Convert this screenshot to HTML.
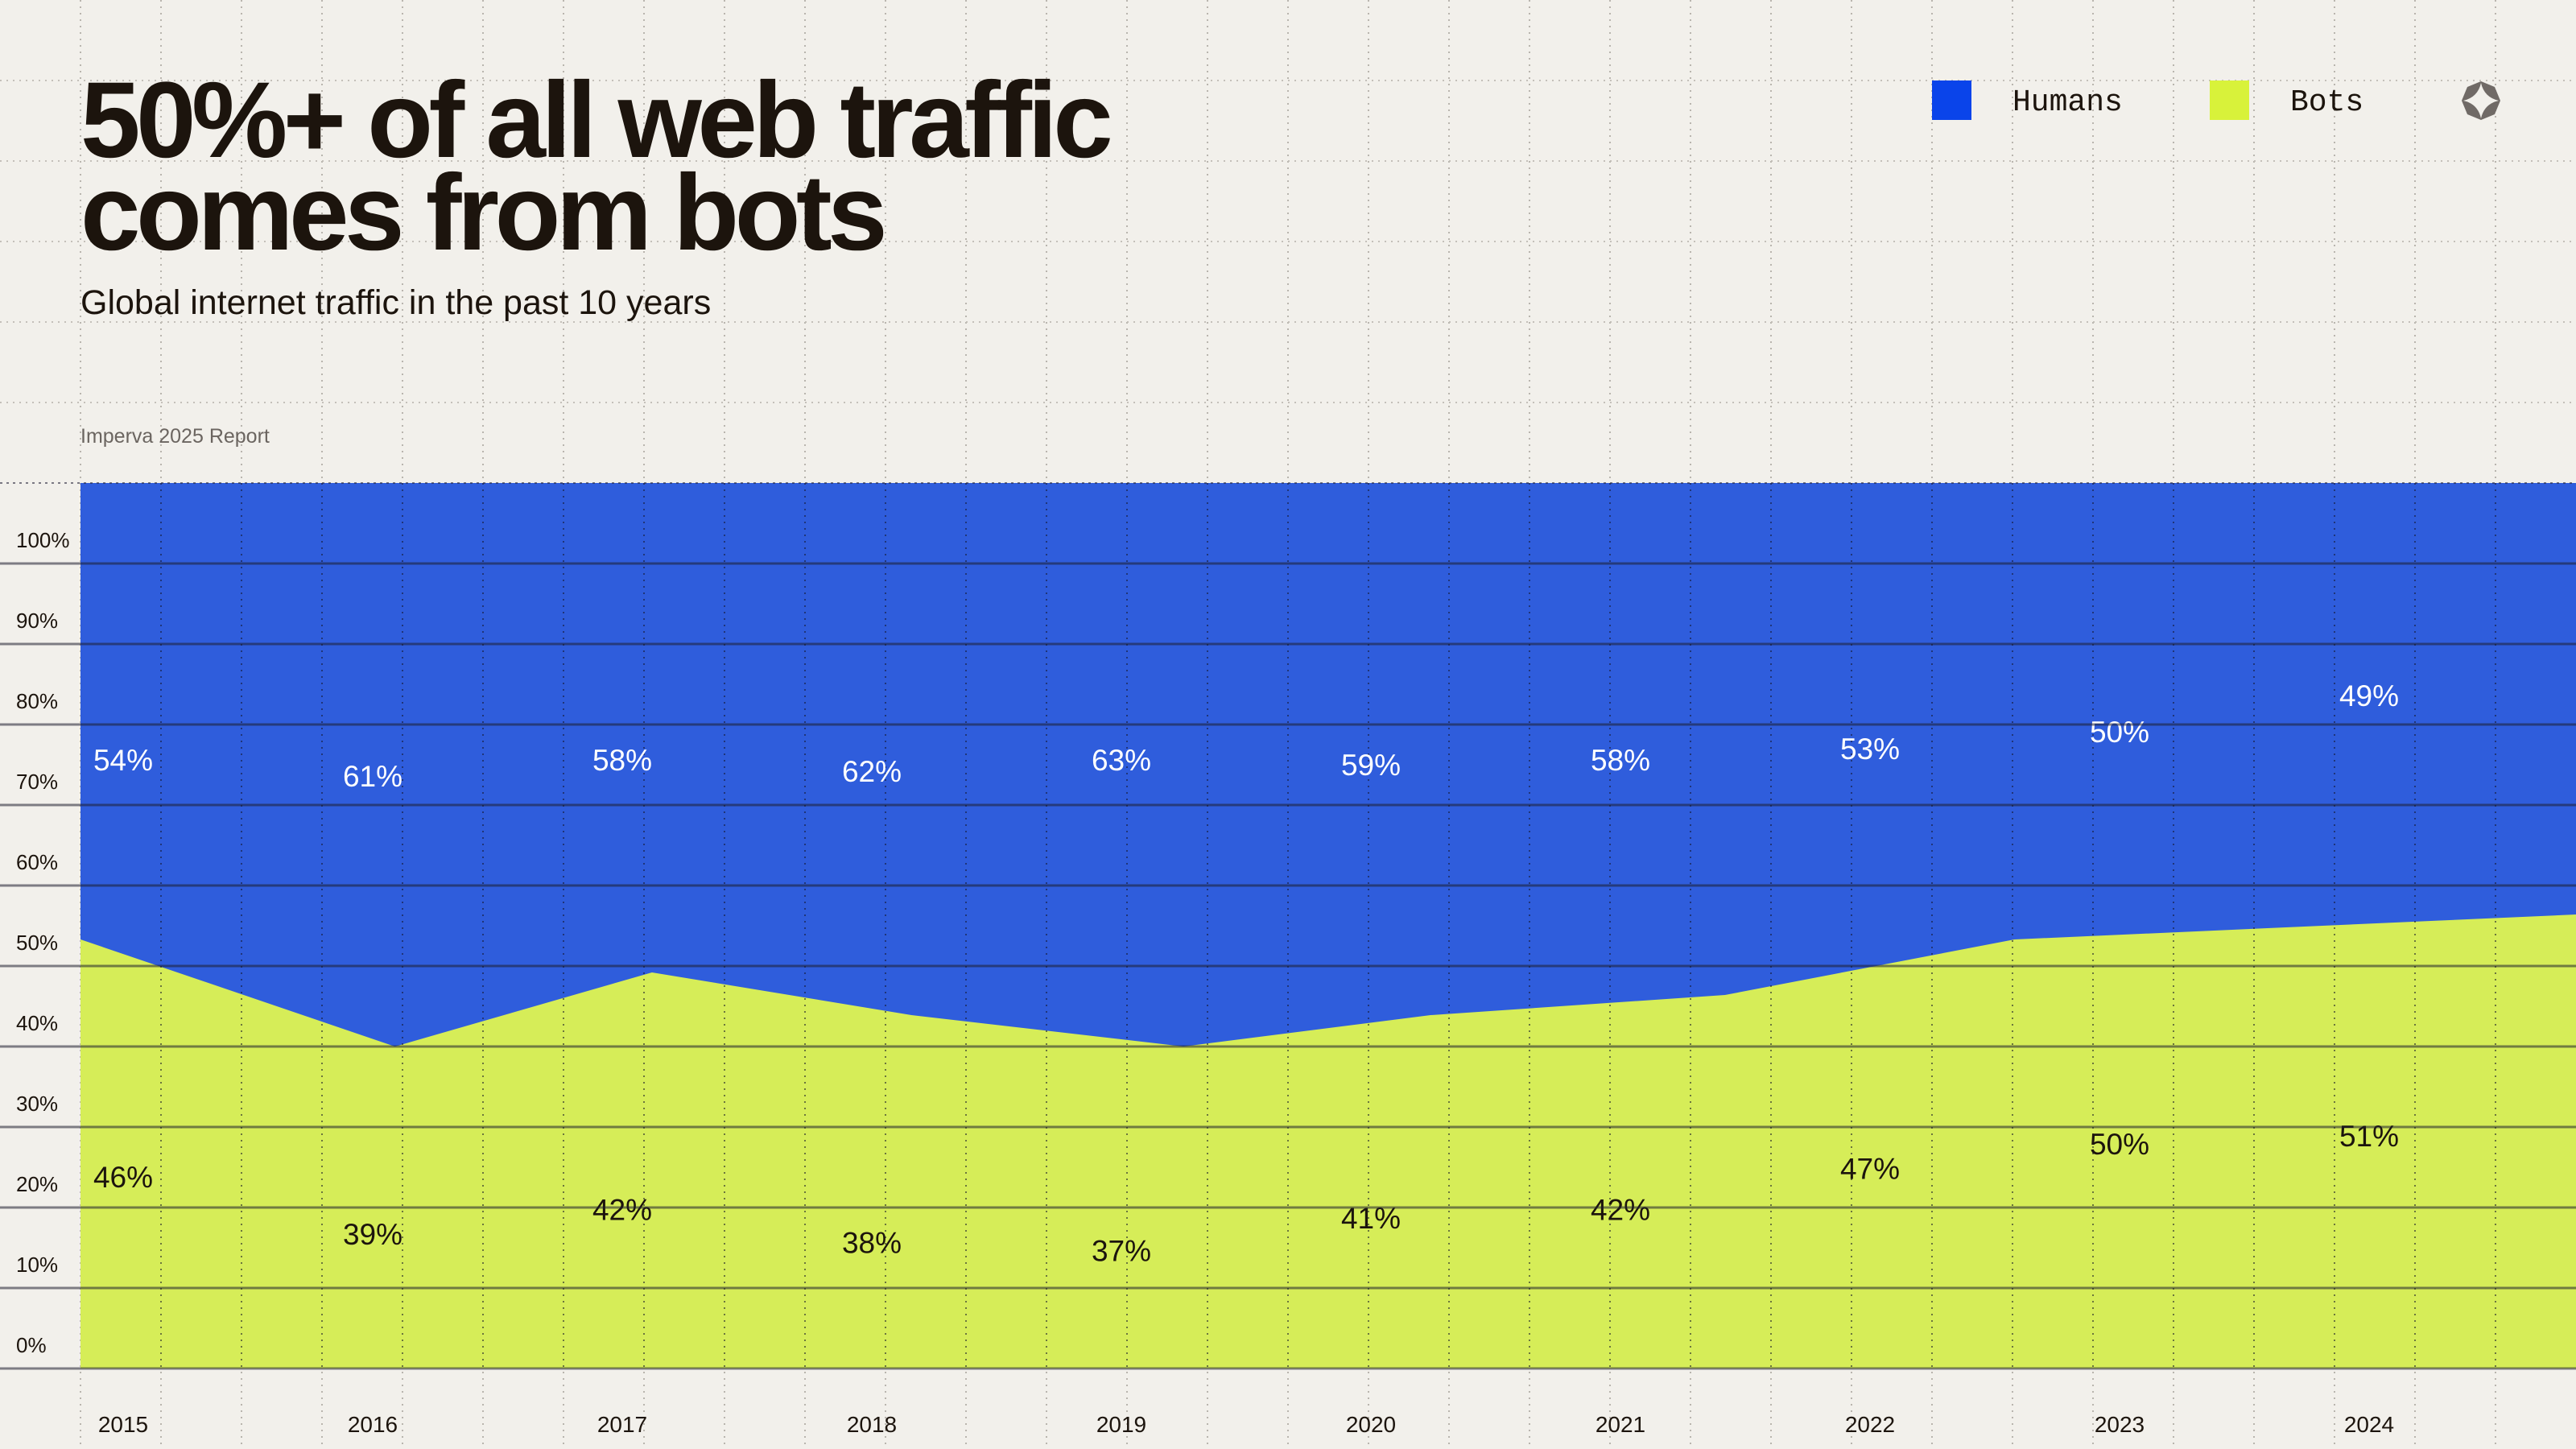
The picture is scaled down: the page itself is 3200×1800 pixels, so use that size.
<!DOCTYPE html>
<html><head><meta charset="utf-8"><style>
html,body{margin:0;padding:0;background:#f2f0eb;}
svg{display:block;}
</style></head><body>
<svg id="chart" width="3200" height="1800" viewBox="0 0 3200 1800" xmlns="http://www.w3.org/2000/svg">
<rect x="0" y="0" width="3200" height="1800" fill="#f2f0eb"/>
<g id="bggrid"></g>
<g id="plot"></g>
<g id="labels"></g>
<g id="axes"></g>
<text x="100" y="195" font-family="Liberation Sans, sans-serif" font-weight="700" font-size="134" letter-spacing="-5.5" fill="#1c140d">50%+ of all web traffic</text>
<text x="100" y="310" font-family="Liberation Sans, sans-serif" font-weight="700" font-size="134" letter-spacing="-5.5" fill="#1c140d">comes from bots</text>
<text x="100" y="390" font-family="Liberation Sans, sans-serif" font-size="43" fill="#1c140d">Global internet traffic in the past 10 years</text>
<text x="100" y="550" font-family="Liberation Sans, sans-serif" font-size="25" fill="#6b6560">Imperva 2025 Report</text>
<g>
<g>
<rect x="2400" y="100" width="49" height="49" fill="#0a44ea"/>
<text x="2500" y="137" font-family="Liberation Mono, monospace" font-size="38" fill="#1c140d">Humans</text>
</g>
<g>
<rect x="2745" y="100" width="49" height="49" fill="#d8f23a"/>
<text x="2845" y="137" font-family="Liberation Mono, monospace" font-size="38" fill="#1c140d">Bots</text>
</g>
</g>
<g transform="translate(3082,125)">
<polygon points="0,-24 17,-17 24,0 17,17 0,24 -17,17 -24,0 -17,-17" fill="#706a66"/>
<path d="M0,-22 Q4,-4 22,0 Q4,4 0,22 Q-4,4 -22,0 Q-4,-4 0,-22 Z" fill="#f2f0eb"/>
</g>
</svg>
<script>
const years = ["2015","2016","2017","2018","2019","2020","2021","2022","2023","2024"];
const humanValues = [54,61,58,62,63,59,58,53,50,49];
const botValues = [46,39,42,38,37,41,42,47,50,51];
const humanLabelLevel = [75.7,73.7,75.7,74.3,75.7,75.1,75.7,77.1,79.2,83.7];
const boundaryT = [0,0.126,0.229,0.333,0.442,0.541,0.659,0.775,1];
const boundaryPct = [53.3,40,49.2,43.9,40,43.9,46.4,53.3,56.4];
const yTicks = [0,10,20,30,40,50,60,70,80,90,100];

const NS="http://www.w3.org/2000/svg";
const X0=100,X1=3200,YTOP=600;
function yScale(v){return 1700-v*10;}
function tScale(t){return X0+t*(X1-X0);}
function yearX(i){return 153+i*310;}
function mk(tag,attrs,parent){const e=document.createElementNS(NS,tag);for(const k in attrs)e.setAttribute(k,attrs[k]);parent.appendChild(e);return e;}

const bg=document.getElementById('bggrid');
for(let x=100;x<3200;x+=100){
  const l=mk('line',{x1:x,y1:0,x2:x,y2:1800,stroke:'#b9b5ae','stroke-width':2,'stroke-dasharray':'2 6'},bg);
  
  
}
for(let y=100;y<600;y+=100){
  const l=mk('line',{x1:0,y1:y,x2:3200,y2:y,stroke:'#c4c0b9','stroke-width':2,'stroke-dasharray':'2 6'},bg);
  
  
}

const plot=document.getElementById('plot');
const hum=mk('rect',{x:X0,y:YTOP,width:X1-X0,height:yScale(0)-YTOP,fill:'#2f5ddc'},plot);


let d='M'+tScale(0)+','+yScale(0);
boundaryT.forEach((t,i)=>{d+=' L'+tScale(t)+','+yScale(boundaryPct[i]);});
d+=' L'+tScale(1)+','+yScale(0)+' Z';
const bot=mk('path',{d:d,fill:'#d6ed58'},plot);


for(let x=200;x<3200;x+=100){
  const l=mk('line',{x1:x,y1:YTOP,x2:x,y2:1700,stroke:'rgba(20,20,40,0.55)','stroke-width':2,'stroke-dasharray':'2 6'},plot);
  
  
}
const topL=mk('line',{x1:0,y1:YTOP,x2:3200,y2:YTOP,stroke:'rgba(40,40,60,0.6)','stroke-width':2,'stroke-dasharray':'3 5'},plot);



const axes=document.getElementById('axes');
yTicks.forEach(v=>{
  const l=mk('line',{x1:0,y1:yScale(v),x2:3200,y2:yScale(v),stroke:'rgba(30,30,45,0.55)','stroke-width':3},axes);
  
  
  const t=mk('text',{x:20,y:yScale(v)-20,'font-family':'Liberation Sans, sans-serif','font-size':26,fill:'#1c140d'},axes);
  t.textContent=v+'%';
  
  
});
years.forEach((yr,i)=>{
  const t=mk('text',{x:yearX(i),y:1779,'text-anchor':'middle','font-family':'Liberation Sans, sans-serif','font-size':28,fill:'#1c140d'},axes);
  t.textContent=yr;
  
  
});

const lab=document.getElementById('labels');
years.forEach((yr,i)=>{
  const h=mk('text',{x:yearX(i),y:yScale(humanLabelLevel[i])+14,'text-anchor':'middle','font-family':'Liberation Sans, sans-serif','font-size':37,fill:'#ffffff'},lab);
  h.textContent=humanValues[i]+'%';
  
  
  const b=mk('text',{x:yearX(i),y:yScale(botValues[i]*1.02)+244,'text-anchor':'middle','font-family':'Liberation Sans, sans-serif','font-size':37,fill:'#1c140d'},lab);
  b.textContent=botValues[i]+'%';
  
  
});
</script>
</body></html>
